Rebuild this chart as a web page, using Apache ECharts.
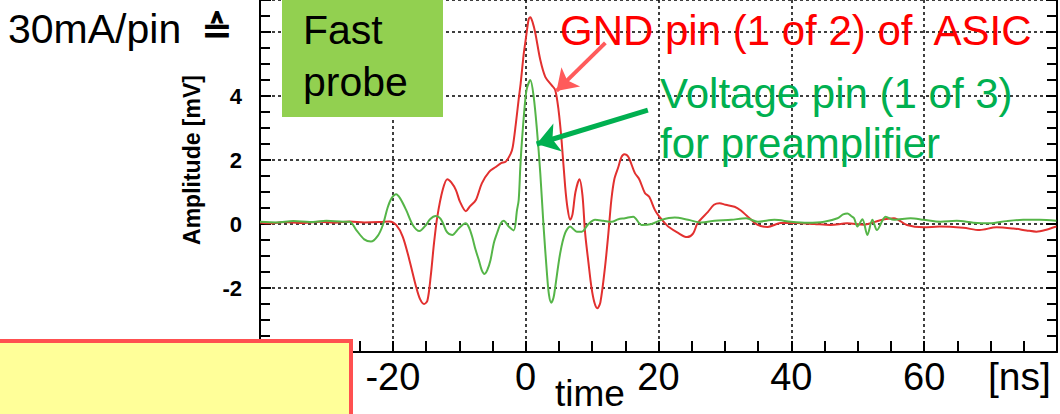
<!DOCTYPE html>
<html>
<head>
<meta charset="utf-8">
<script src="https://cdn.jsdelivr.net/npm/echarts@6/dist/echarts.min.js"></script>
<style>
  html, body { margin: 0; padding: 0; background: #fff; }
  #main { width: 1060px; height: 414px; }
</style>
</head>
<body>
<div id="main"></div>
<script>
// GND pin (red) - time [ns] / amplitude [mV]
var gndTime = [-40, -38.5, -36.3, -34, -31, -28.8, -26.5, -24.3, -22, -20.5, -19.5, -18.5, -17.5, -16.5, -15.9,
  -15.3, -14.8, -14.3, -13.8, -13.3, -12.5, -11.8, -11.2, -10.5, -9.9, -9, -8.4, -7.5, -6.6, -5.5,
  -4.5, -3.7, -3, -2.25, -1.95, -1.5, -1.05, -0.75, -0.3, 0, 0.45, 0.7, 1.05, 1.45, 2.2,
  2.95, 3.9, 4.45, 4.95, 5.4, 5.95, 6.3, 6.7, 7.05, 7.5, 8.1, 8.55, 8.95, 9.45, 9.9,
  10.35, 10.8, 11.25, 11.95, 12.45, 12.9, 13.35, 13.95, 14.4, 14.85, 15.45, 16.45, 17.1, 17.95, 18.6,
  19.45, 19.95, 20.95, 21.45, 22.95, 24.3, 25.2, 25.9, 27.45, 28.35, 29.2, 30.1, 31.45, 32.4, 33.45,
  34.95, 36.45, 38.4, 40.9, 43.45, 45.9, 48.4, 50.9, 53.4, 55.45, 57.4, 59.9, 62.35, 65.9, 68.35,
  70.9, 73.4, 75.4, 76.9, 78.4, 79.9];
var gndAmp = [0.05, 0.02, 0.06, 0.03, 0.07, 0.04, 0.08, 0.05, 0.06, 0.08, -0.03, -0.4, -1.13, -1.96, -2.35,
  -2.5, -2.4, -1.64, -0.6, 0.23, 1.06, 1.4, 1.3, 1.06, 0.7, 0.4, 0.55, 0.75, 1.27, 1.63,
  1.78, 1.9, 1.95, 2.2, 2.4, 3.1, 3.9, 4.4, 5.3, 5.75, 6.4, 6.46, 6.3, 5.97, 5.13,
  4.6, 4.34, 4.19, 3.56, 2.63, 1.16, 0.5, 0.13, 0.3, 1.0, 1.4, 0.9, -0.28, -1.2, -1.97,
  -2.45, -2.63, -2.45, -1.34, -0.3, 0.75, 1.4, 1.78, 2.08, 2.18, 2.1, 1.59, 1.4, 0.97, 0.85,
  0.44, 0.28, 0.03, -0.08, -0.28, -0.41, -0.3, 0.03, 0.38, 0.6, 0.65, 0.6, 0.54, 0.42, 0.23,
  -0.03, -0.09, 0.03, 0.03, 0.0, -0.03, 0.02, -0.02, 0.12, 0.18, -0.03, -0.1, -0.08, -0.12, -0.19,
  -0.1, -0.14, -0.2, -0.24, -0.18, -0.08];

// Voltage pin (green)
var vccTime = [-40, -37.5, -35, -32.5, -30, -27.5, -26.5, -25.5, -24.3, -23.3, -22.3, -21.5, -20.8, -20.2, -19.5,
  -18.9, -18, -17, -16, -15, -14.4, -13.55, -13, -12.55, -12, -11.55, -11.05, -10.05, -9.05, -8.55,
  -8.05, -7.55, -7.05, -6.6, -6.2, -5.8, -5.3, -4.8, -4.3, -3.75, -3.3, -2.55, -1.8, -1.3, -1.05,
  -0.8, -0.55, -0.05, 0.2, 0.7, 1.2, 1.7, 2.2, 2.7, 3.2, 3.5, 3.85, 4.2, 4.45, 5.2,
  5.95, 6.7, 7.7, 8.45, 9.45, 10.45, 11.7, 12.95, 13.95, 14.95, 16.2, 17.45, 18.95, 20.45, 22.45,
  24.45, 26.45, 28.45, 30.95, 33.2, 34.95, 37.45, 39.95, 42.45, 44.95, 46.95, 47.8, 48.45, 49, 49.45,
  49.95, 50.7, 51.45, 52.2, 52.9, 54.2, 55.45, 57.95, 59.95, 62.45, 64.9, 67.4, 69.9, 72.4, 74.9,
  77.4, 79.9];
var vccAmp = [0.07, 0.05, 0.09, 0.06, 0.1, 0.07, 0.07, -0.19, -0.48, -0.55, -0.38, -0.03, 0.5, 0.8, 0.93,
  0.8, 0.44, -0.03, -0.22, -0.03, 0.15, 0.25, 0.2, 0.07, -0.2, -0.31, -0.34, -0.13, 0.02, -0.1,
  -0.4, -0.8, -1.13, -1.45, -1.56, -1.45, -1.13, -0.6, -0.28, 0.02, 0.1, -0.08, -0.2, 0.44, 0.75,
  1.8, 2.63, 3.9, 4.25, 4.5, 3.99, 2.94, 1.59, -0.09, -1.53, -2.2, -2.46, -2.3, -1.97, -0.91,
  -0.28, -0.08, -0.24, -0.24, 0.0, 0.13, 0.1, 0.07, 0.15, 0.18, 0.23, -0.03, 0.0, 0.13, 0.2,
  0.13, 0.05, 0.1, 0.13, 0.18, 0.07, 0.13, 0.07, 0.04, 0.07, 0.18, 0.3, 0.33, 0.25, 0.18,
  -0.08, 0.15, -0.34, 0.13, -0.19, 0.23, 0.13, 0.18, 0.13, 0.07, 0.1, 0.04, 0.02, 0.09, 0.13,
  0.13, 0.1];

// arrow annotations [time, amplitude]
var gndArrow = [[12.0, 5.66], [4.64, 4.16]];
var vccArrow = [[18.4, 3.56], [1.65, 2.5]];

function zip(a, b) {
  return a.map(function (t, i) { return [t, b[i]]; });
}

var chartDom = document.getElementById('main');
var myChart = echarts.init(chartDom, null, { renderer: 'svg' });
var font = 'Liberation Sans, Arial, sans-serif';

var gridLine = { show: true, lineStyle: { color: '#000', type: [3, 3], width: 1.5 } };

var option = {
  animation: false,
  backgroundColor: '#fff',
  grid: { left: 260, top: 0, width: 801, height: 352 },
  xAxis: {
    type: 'value', min: -40, max: 80, interval: 20,
    axisLine: { onZero: false, lineStyle: { color: '#000', width: 2 } },
    axisTick: { inside: true, length: 11, lineStyle: { color: '#000', width: 2 } },
    minorTick: { show: true, splitNumber: 4, length: 11, lineStyle: { color: '#000', width: 2 } },
    axisLabel: {
      margin: 6, fontSize: 38, color: '#000', fontFamily: font,
      formatter: function (v) { return (v === -40 || v === 80) ? '' : v; }
    },
    splitLine: gridLine
  },
  yAxis: [{
    type: 'value', min: -4, max: 7, interval: 2,
    axisLine: { show: true, onZero: false, lineStyle: { color: '#000', width: 2 } },
    axisTick: { inside: true, length: 11, lineStyle: { color: '#000', width: 2 } },
    minorTick: { show: true, splitNumber: 4, length: 10, lineStyle: { color: '#000', width: 2 } },
    axisLabel: {
      margin: 18, fontSize: 22, fontWeight: 'bold', color: '#000', fontFamily: font,
      formatter: function (v) { return (v >= 6 || v === -4) ? '' : v; }
    },
    splitLine: gridLine
  }, {
    type: 'value', min: -4, max: 7, interval: 2, position: 'right',
    axisLine: { show: true, onZero: false, lineStyle: { color: '#000', width: 2 } },
    axisTick: { inside: true, length: 11, lineStyle: { color: '#000', width: 2 } },
    minorTick: { show: true, splitNumber: 4, length: 10, lineStyle: { color: '#000', width: 2 } },
    axisLabel: { show: false },
    splitLine: { show: false }
  }],
  series: [
    {
      name: 'GND pin', type: 'line', data: zip(gndTime, gndAmp),
      smooth: 0.3, showSymbol: false, z: 3,
      lineStyle: { color: '#E2302F', width: 2 },
      markLine: {
        silent: true, symbol: ['none', 'arrow'], symbolSize: 20,
        label: { show: false },
        lineStyle: { color: '#FF5B5B', width: 4, type: 'solid' },
        itemStyle: { color: '#FF5B5B' },
        data: [[{ coord: gndArrow[0] }, { coord: gndArrow[1] }]]
      }
    },
    {
      name: 'Voltage pin', type: 'line', data: zip(vccTime, vccAmp),
      smooth: 0.3, showSymbol: false, z: 4,
      lineStyle: { color: '#55B548', width: 2 },
      markLine: {
        silent: true, symbol: ['none', 'arrow'], symbolSize: 22,
        label: { show: false },
        lineStyle: { color: '#00B050', width: 5, type: 'solid' },
        itemStyle: { color: '#00B050' },
        data: [[{ coord: vccArrow[0] }, { coord: vccArrow[1] }]]
      }
    }
  ],
  graphic: [
    { type: 'rect', z: 50, shape: { x: 282, y: -5, width: 161, height: 122 }, style: { fill: '#92D050' } },
    { type: 'text', z: 51, x: 303, y: 30, style: { text: 'Fast', font: '41px ' + font, fill: '#000', verticalAlign: 'middle' } },
    { type: 'text', z: 51, x: 303, y: 82, style: { text: 'probe', font: '41px ' + font, fill: '#000', verticalAlign: 'middle' } },
    { type: 'text', z: 51, x: 8, y: 29, style: { text: '30mA/pin', font: '41px ' + font, fill: '#000', verticalAlign: 'middle' } },
    { type: 'text', z: 51, x: 201, y: 30, style: { text: '\u2259', font: 'bold 38px DejaVu Sans', fill: '#000', verticalAlign: 'middle' } },
    { type: 'text', z: 51, x: 560, y: 30, style: { text: 'GND pin (1 of 2) of\u00a0 ASIC', font: '42px ' + font, fill: '#FF0000', verticalAlign: 'middle' } },
    { type: 'text', z: 51, x: 660, y: 93, style: { text: 'Voltage pin (1 of 3)', font: '42px ' + font, fill: '#00B050', verticalAlign: 'middle' } },
    { type: 'text', z: 51, x: 660, y: 143, style: { text: 'for preamplifier', font: '42px ' + font, fill: '#00B050', verticalAlign: 'middle' } },
    { type: 'text', z: 51, x: 192, y: 160, rotation: Math.PI / 2, style: { text: 'Amplitude [mV]', font: 'bold 23px ' + font, fill: '#000', align: 'center', verticalAlign: 'middle' } },
    { type: 'text', z: 51, x: 555, y: 393, style: { text: 'time', font: '37px ' + font, fill: '#000', verticalAlign: 'middle' } },
    { type: 'text', z: 51, x: 988, y: 376, style: { text: '[ns]', font: '39px ' + font, fill: '#000', verticalAlign: 'middle' } },
    { type: 'rect', z: 100, shape: { x: -4, y: 341, width: 355, height: 80 }, style: { fill: '#FFFF99', stroke: '#FF5050', lineWidth: 4 } }
  ]
};

myChart.setOption(option);
</script>
</body>
</html>
